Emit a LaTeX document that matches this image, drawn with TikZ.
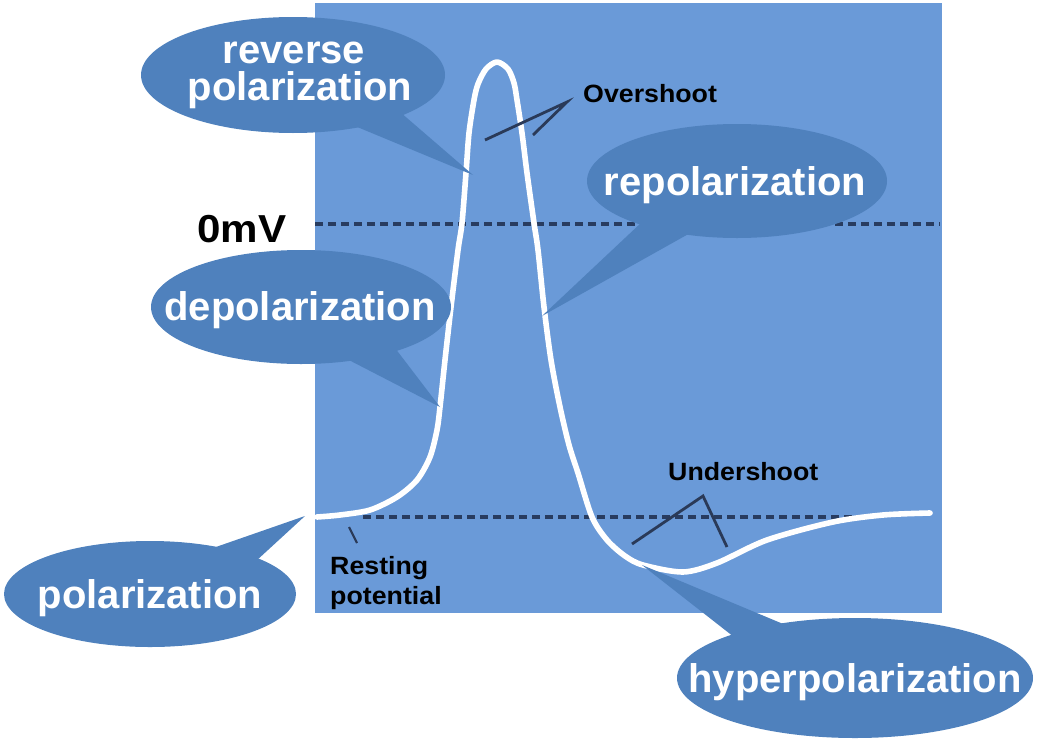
\documentclass[tikz,border=0pt]{standalone}
\usepackage{fontspec}
\setmainfont{Liberation Sans}
\definecolor{bgblue}{RGB}{106,154,216}
\definecolor{callblue}{RGB}{79,129,189}
\definecolor{dashc}{RGB}{40,60,96}
\definecolor{ptrc}{RGB}{42,58,88}
\begin{document}
\begin{tikzpicture}[x=1pt,y=-1pt,
  callout/.style={fill=callblue},
  calltext/.style={text=white,font=\fontsize{40}{40}\selectfont\bfseries,inner sep=0pt,anchor=base},
  smalllabel/.style={font=\fontsize{25}{25}\selectfont\bfseries,inner sep=0pt,anchor=base west,xscale=1.07},
  refline/.style={draw=dashc,line width=3.6pt,dash pattern=on 8pt off 5pt},
  pointer/.style={draw=ptrc,line width=2.8pt},
  trace/.style={draw=white,line width=5.6pt,line join=round,line cap=round}]
\useasboundingbox (0,0) rectangle (1043,744);
% panel
\fill[bgblue] (315,3) rectangle (942,613);
% reference lines
\coordinate (zA) at (315,224);
\coordinate (zB) at (940,224);
\coordinate (rA) at (363,517);
\coordinate (rB) at (873,517);
\draw[refline] (zA) -- (zB);
\draw[refline] (rA) -- (rB);
% action potential trace
\draw[trace] plot[smooth,tension=0.5] coordinates {
 (317,517) (340,515) (370,510) (397,497) (417,480) (430,457) (437,430) (440,407)
 (445,360) (451,307) (458,250) (462,223) (466,173) (469,133) (474,100) (478,84)
 (486,69) (497,62) (508,69) (514,83) (517,100) (522,133) (527,173) (534,223)
 (538,250) (544,307) (551,360) (560,407) (569,445) (578,473) (592,517) (607,540)
 (625,556) (643,565) (683,572) (717,563) (767,540) (833,522) (883,515) (930,513)};
% pointers
\coordinate (ovA) at (485,140);
\coordinate (ovB) at (567,102);
\coordinate (ovC) at (533,135);
\draw[pointer] (ovA) -- (ovB) -- (ovC);
\coordinate (unA) at (632,544);
\coordinate (unB) at (703,496);
\coordinate (unC) at (727,547);
\draw[pointer] (unA) -- (unB) -- (unC);
\coordinate (reA) at (349,527);
\coordinate (reB) at (357,543);
\draw[pointer,line width=2.2pt] (reA) -- (reB);
% small labels
\node[smalllabel] (over) at (583,102) {Overshoot};
\node[smalllabel] (under) at (668,480) {Undershoot};
\node[smalllabel] (rest1) at (330,574) {Resting};
\node[smalllabel] (rest2) at (330,604) {potential};
\node[font=\fontsize{39}{39}\selectfont\bfseries,inner sep=0pt,anchor=base,xscale=1.08] (zero) at (242,242) {0mV};
% callouts
\coordinate (cRev) at (293,75);
\coordinate (tRev) at (473,175);
\fill[callout] (cRev) ellipse [x radius=152pt, y radius=58pt];
\fill[callout] (400,112) -- (tRev) -- (350,124) -- cycle;
\node[calltext] (revA) at (294,63) {reverse};
\node[calltext] (revB) at (300,100) {polarization};

\coordinate (cRep) at (737,181);
\coordinate (tRep) at (542,316);
\fill[callout] (cRep) ellipse [x radius=150pt, y radius=57pt];
\fill[callout] (642,222) -- (tRep) -- (692,232) -- cycle;
\node[calltext] (repol) at (735,195) {repolarization};

\coordinate (cDep) at (301,307);
\coordinate (tDep) at (440,407);
\fill[callout] (cDep) ellipse [x radius=150pt, y radius=57pt];
\fill[callout] (395,348) -- (tDep) -- (345,358) -- cycle;
\node[calltext] (depol) at (300,320) {depolarization};

\coordinate (cPol) at (150,594);
\coordinate (tPol) at (305,516);
\fill[callout] (cPol) ellipse [x radius=146pt, y radius=53pt];
\fill[callout] (213,548) -- (tPol) -- (256,561) -- cycle;
\node[calltext] (pol) at (150,608) {polarization};

\coordinate (cHyp) at (855,678);
\coordinate (tHyp) at (642,565);
\fill[callout] (cHyp) ellipse [x radius=178pt, y radius=60pt];
\fill[callout] (788,626) -- (tHyp) -- (734,637) -- cycle;
\node[calltext] (hyper) at (855,692) {hyperpolarization};
\end{tikzpicture}
\end{document}
